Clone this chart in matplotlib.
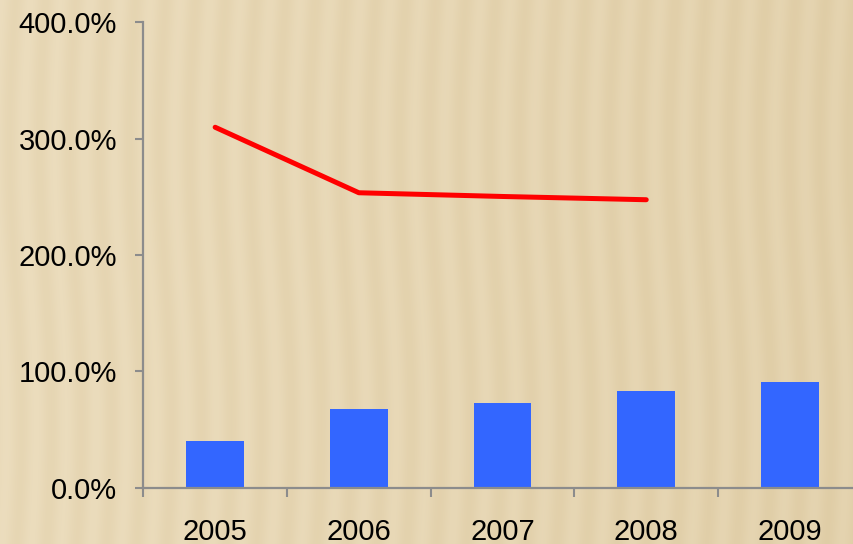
"""
Bar + line chart of yearly percentages on a beige striped background.
"""
import numpy as np
import matplotlib
matplotlib.use("Agg")
import matplotlib.pyplot as plt
from matplotlib.ticker import FuncFormatter

years = ["2005", "2006", "2007", "2008", "2009"]
bar_values = [40.1, 67.6, 72.8, 83.1, 90.6]
line_years = ["2005", "2006", "2007", "2008"]
line_values = [309.8, 253.5, 250.3, 247.5]
y_ticks = [0, 100, 200, 300, 400]

plt.rcParams["font.family"] = ["Liberation Sans", "DejaVu Sans"]

W, H = 854, 544
fig = plt.figure(figsize=(W / 100, H / 100), dpi=100)

# Background texture: soft vertical stripes, slightly darker to the right.
bg = fig.add_axes([0, 0, 1, 1], zorder=-1)
xx, yy = np.meshgrid(np.arange(W), np.arange(H))
phase = 2 * np.pi * (xx + 6 * np.sin(yy / 90.0)) / 30.0
stripe = 0.5 + 0.5 * np.cos(phase)
shade = xx / W
light = np.array([238, 224, 194]) / 255.0
dark = np.array([222, 203, 163]) / 255.0
t = np.clip(0.15 + 0.3 * (1 - stripe) + 0.45 * shade, 0, 1)[..., None]
img = light * (1 - t) + dark * t
bg.imshow(img, aspect="auto", interpolation="bilinear")
bg.axis("off")

ax = fig.add_axes([0.1678, 0.1035, 0.8413, 0.8555])
ax.set_facecolor("none")

x = np.arange(len(years))
ax.bar(x, bar_values, width=0.4, color="#3366FF", zorder=2)
lx = [years.index(y) for y in line_years]
ax.plot(lx, line_values, color="#FF0000", lw=3.6, solid_capstyle="round",
        zorder=3)

ax.set_xlim(-0.5, len(years) - 0.5)
ax.set_ylim(0, 400)

axis_gray = "#8C8C8C"
for side in ("top", "right"):
    ax.spines[side].set_visible(False)
for side in ("left", "bottom"):
    ax.spines[side].set_color(axis_gray)
    ax.spines[side].set_linewidth(1.6)

ax.set_yticks(y_ticks)
ax.yaxis.set_major_formatter(FuncFormatter(lambda v, p: f"{v:.1f}%"))
ax.tick_params(axis="y", length=6, width=1.5, color=axis_gray, pad=13,
               labelsize=21, labelcolor="black")

ax.set_xticks(x)
ax.set_xticklabels(years)
ax.set_xticks(np.arange(len(years)) - 0.5, minor=True)
ax.tick_params(axis="x", which="major", length=0, pad=22, labelsize=21)
ax.tick_params(axis="x", which="minor", length=6.5, width=1.5,
               color=axis_gray)

fig.savefig("out.png", dpi=100)
